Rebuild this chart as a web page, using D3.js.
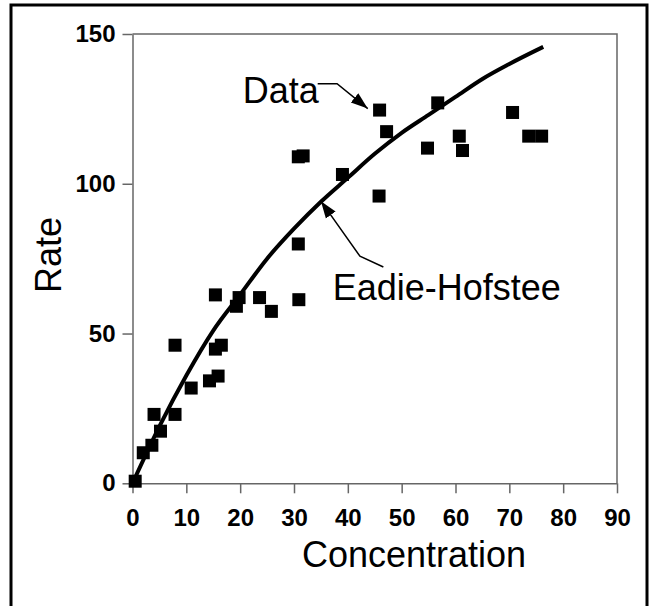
<!DOCTYPE html>
<html>
<head>
<meta charset="utf-8">
<script src="https://cdn.jsdelivr.net/npm/d3@7/dist/d3.min.js"></script>
<style>
	body { margin: 0; background: #fff; }
	svg { display: block; font-family: "Liberation Sans", Arial, sans-serif; }
</style>
</head>
<body>
<svg id="chart"></svg>
<script>
const width  = 652;
const height = 606;

// measured points
const concentration = [0.5, 2.0, 3.6, 4.0, 5.2, 7.9, 7.9, 10.9, 14.3, 15.9, 15.4, 16.5, 15.4, 19.3, 19.8, 23.6, 25.8, 30.9, 30.8, 30.8, 31.7, 39.0, 45.9, 45.8, 47.2, 56.7, 54.8, 60.7, 61.3, 70.6, 73.6, 76.0];
const rate          = [0.7, 10.2, 12.7, 23.0, 17.4, 23.0, 46.1, 31.8, 34.2, 35.8, 44.8, 46.1, 62.9, 59.1, 62.0, 62.0, 57.4, 61.3, 79.9, 109.0, 109.3, 103.1, 124.6, 95.9, 117.4, 127.0, 111.9, 115.9, 111.1, 123.8, 115.9, 115.9];

// fitted curve (Eadie-Hofstee)
const fitX = [0, 5, 10, 15, 20, 25, 30, 35, 40, 45, 50, 55, 60, 65, 70, 76.3];
const fitY = [0, 19, 36, 51, 63, 75, 85, 94, 102, 110, 117, 123, 129, 135, 140, 145.7];

const xTicks = [0, 10, 20, 30, 40, 50, 60, 70, 80, 90];
const yTicks = [0, 50, 100, 150];

const x = d3.scaleLinear().domain([0, 90]).range([132.5, 617]);
const y = d3.scaleLinear().domain([0, 150]).range([483.3, 34]);

const svg = d3.select('#chart')
	.attr('width', width)
	.attr('height', height);

// outer frame
svg.append('rect')
	.attr('x', 11).attr('y', 5)
	.attr('width', 636).attr('height', 612)
	.attr('fill', 'none')
	.attr('stroke', '#000')
	.attr('stroke-width', 3);

const axisColor = '#666';

// plot box top and right edges
svg.append('path')
	.attr('d', `M${x(0)},${y(150)}H${x(90)}V${y(0)}`)
	.attr('fill', 'none')
	.attr('stroke', axisColor)
	.attr('stroke-width', 1.5);

const xAxis = svg.append('g')
	.attr('transform', `translate(0,${y(0)})`)
	.call(d3.axisBottom(x).tickValues(xTicks).tickSize(10).tickSizeOuter(0).tickPadding(16));

const yAxis = svg.append('g')
	.attr('transform', `translate(${x(0)},0)`)
	.call(d3.axisLeft(y).tickValues(yTicks).tickSize(10).tickSizeOuter(0).tickPadding(7));

[xAxis, yAxis].forEach(g => {
	g.selectAll('path, line').attr('stroke', axisColor).attr('stroke-width', 1.5);
	g.selectAll('text')
		.attr('fill', '#000')
		.style('font-family', '"Liberation Sans", Arial, sans-serif')
		.style('font-size', '24px')
		.style('font-weight', 'bold');
});

// axis titles
svg.append('text')
	.attr('x', 414).attr('y', 567)
	.attr('text-anchor', 'middle')
	.style('font-size', '36px')
	.text('Concentration');

svg.append('text')
	.attr('transform', 'translate(61,255) rotate(-90)')
	.attr('text-anchor', 'middle')
	.style('font-size', '36px')
	.text('Rate');

// fitted curve
const fit = fitX.map((d, i) => [d, fitY[i]]);
svg.append('path')
	.datum(fit)
	.attr('fill', 'none')
	.attr('stroke', '#000')
	.attr('stroke-width', 4)
	.attr('d', d3.line().curve(d3.curveMonotoneX).x(d => x(d[0])).y(d => y(d[1])));

// data squares
const sq = 13;
svg.append('g')
	.selectAll('rect')
	.data(concentration.map((d, i) => ({c: d, r: rate[i]})))
	.join('rect')
		.attr('x', d => x(d.c) - sq / 2)
		.attr('y', d => y(d.r) - sq / 2)
		.attr('width', sq)
		.attr('height', sq)
		.attr('fill', '#000');

// annotations
svg.append('defs').append('marker')
	.attr('id', 'head')
	.attr('viewBox', '0 0 10 10')
	.attr('refX', 10).attr('refY', 5)
	.attr('markerWidth', 17).attr('markerHeight', 17)
	.attr('markerUnits', 'userSpaceOnUse')
	.attr('orient', 'auto')
	.append('path')
		.attr('d', 'M0,1.5L10,5L0,8.5Z')
		.attr('fill', '#000');

const line = d3.line().x(d => x(d[0])).y(d => y(d[1]));

svg.append('text')
	.attr('x', x(20.5)).attr('y', y(126.9))
	.style('font-size', '36px')
	.text('Data');

svg.append('path')
	.datum([[34.4, 133.4], [38.0, 133.4], [43.7, 125.1]])
	.attr('d', line)
	.attr('fill', 'none')
	.attr('stroke', '#000')
	.attr('stroke-width', 1.5)
	.attr('marker-end', 'url(#head)');

svg.append('text')
	.attr('x', x(37.2)).attr('y', y(61.3))
	.style('font-size', '36px')
	.text('Eadie-Hofstee');

svg.append('path')
	.datum([[46.6, 72.2], [42.25, 75.8], [35.0, 94.2]])
	.attr('d', line)
	.attr('fill', 'none')
	.attr('stroke', '#000')
	.attr('stroke-width', 1.5)
	.attr('marker-end', 'url(#head)');
</script>
</body>
</html>
